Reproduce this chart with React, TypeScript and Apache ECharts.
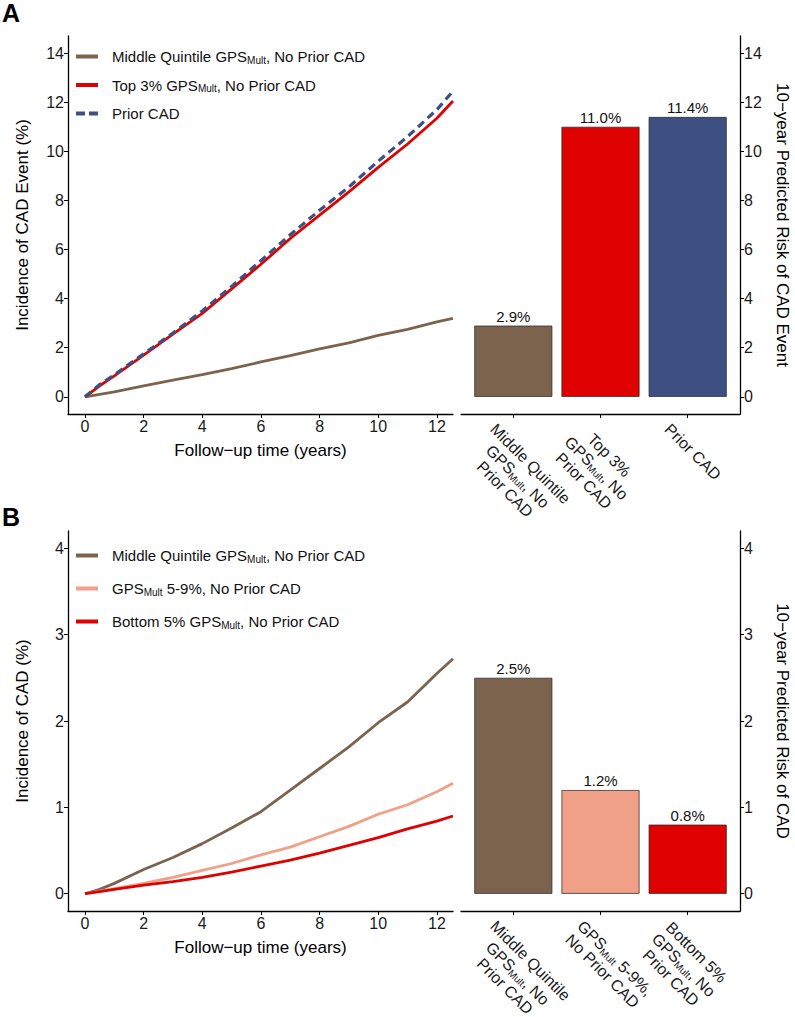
import React, { useEffect, useRef } from "react";
import * as echarts from "echarts";

const FONT = "'Liberation Sans', Arial, Helvetica, sans-serif";

// ---------- shared ----------
const followUpYears = [0, 0.5, 1, 2, 3, 4, 5, 6, 7, 8, 9, 10, 11, 12, 12.55];
const xTicks = [0, 2, 4, 6, 8, 10, 12];

// ---------- panel A ----------
const aMiddleQuintile = [0, 0.1, 0.2, 0.45, 0.68, 0.9, 1.15, 1.42, 1.68, 1.95, 2.2, 2.5, 2.75, 3.05, 3.2];
const aTop3 = [0, 0.45, 0.85, 1.7, 2.55, 3.4, 4.4, 5.4, 6.45, 7.4, 8.35, 9.35, 10.3, 11.35, 12.05];
const aPriorCad = [0, 0.5, 0.9, 1.75, 2.6, 3.5, 4.5, 5.55, 6.6, 7.6, 8.55, 9.6, 10.6, 11.7, 12.45];
const aYTicks = [0, 2, 4, 6, 8, 10, 12, 14];
const aBarCategories = [
  "Middle Quintile\nGPS_Mult, No\nPrior CAD",
  "Top 3%\nGPS_Mult, No\nPrior CAD",
  "Prior CAD",
];
const aBarValues = [2.9, 11.0, 11.4];

// ---------- panel B ----------
const bMiddleQuintile = [0, 0.05, 0.12, 0.28, 0.42, 0.58, 0.76, 0.95, 1.2, 1.45, 1.7, 1.98, 2.22, 2.55, 2.72];
const b5to9 = [0, 0.03, 0.06, 0.12, 0.19, 0.27, 0.35, 0.45, 0.54, 0.66, 0.78, 0.92, 1.03, 1.18, 1.28];
const bBottom5 = [0, 0.025, 0.05, 0.1, 0.14, 0.19, 0.25, 0.32, 0.39, 0.47, 0.56, 0.65, 0.75, 0.84, 0.9];
const bYTicks = [0, 1, 2, 3, 4];
const bBarCategories = [
  "Middle Quintile\nGPS_Mult, No\nPrior CAD",
  "GPS_Mult 5-9%,\nNo Prior CAD",
  "Bottom 5%\nGPS_Mult, No\nPrior CAD",
];
const bBarValues = [2.5, 1.2, 0.8];

// bar category positions on the bar axes (ticks) and where their labels hang
const barPositions = [1, 2, 3];
const barLabelPositions = [0.84, 1.84, 2.84];

// ---------- names ----------
const nMid = "Middle Quintile GPS_Mult, No Prior CAD";
const nTop3 = "Top 3% GPS_Mult, No Prior CAD";
const nPrior = "Prior CAD";
const n5to9 = "GPS_Mult 5-9%, No Prior CAD";
const nBottom5 = "Bottom 5% GPS_Mult, No Prior CAD";

const BROWN = "#7C634D";
const RED = "#DF0000";
const BLUE = "#3D5081";
const PINK = "#F0A086";
const TXT = "#1a1a1a";

const richLine = (line: string) =>
  line
    .split("_Mult")
    .map((p) => (p ? `{n|${p}}` : ""))
    .join("{s|Mult}");
const richify = (s: string) => s.split("\n").map(richLine).join("\n");

const pairs = (xs: number[], ys: number[]) => xs.map((x, i) => [x, ys[i]]);

const axisLineStyle = { show: true, onZero: false, lineStyle: { color: "#000", width: 1.3 } };

function lineX(gridIndex: number) {
  return {
    type: "value",
    gridIndex,
    min: -0.58,
    max: 12.55,
    axisLine: axisLineStyle,
    axisTick: { show: true, length: 4, customValues: xTicks, lineStyle: { color: "#000" } },
    axisLabel: { customValues: xTicks, fontSize: 16, color: TXT, margin: 4, fontFamily: FONT },
    splitLine: { show: false },
    name: "Follow\u2212up time (years)",
    nameLocation: "middle",
    nameGap: 28,
    nameTextStyle: { fontSize: 17, color: "#000", fontFamily: FONT },
  };
}

function yAxisDef(gridIndex: number, min: number, max: number, ticks: number[], name: string, right: boolean) {
  return {
    type: "value",
    gridIndex,
    min,
    max,
    position: right ? "right" : "left",
    axisLine: axisLineStyle,
    axisTick: { show: true, length: 4, customValues: ticks, lineStyle: { color: "#000" } },
    axisLabel: { customValues: ticks, fontSize: 16, color: TXT, margin: 4, fontFamily: FONT },
    splitLine: { show: false },
    name,
    nameLocation: "middle",
    nameRotate: right ? -90 : 90,
    nameGap: right ? 34 : 37,
    nameTextStyle: { fontSize: 17, color: "#000", fontFamily: FONT },
  };
}

const labelRich = {
  n: { fontSize: 16, lineHeight: 18, align: "center", color: TXT, fontFamily: FONT },
  s: { fontSize: 10, lineHeight: 11, verticalAlign: "bottom", align: "center", color: TXT, fontFamily: FONT },
};

function barX(gridIndex: number, cats: string[]) {
  return {
    type: "value",
    gridIndex,
    min: 0.4,
    max: 3.6,
    axisLine: axisLineStyle,
    axisTick: { show: true, length: 4, customValues: barPositions, lineStyle: { color: "#000" } },
    axisLabel: {
      customValues: barLabelPositions,
      rotate: -45,
      align: "left",
      verticalAlign: "top",
      margin: 6,
      formatter: (v: number) => richify(cats[Math.round(v) - 1] || ""),
      rich: labelRich,
    },
    splitLine: { show: false },
  };
}

function barSeries(axisIndex: number, values: number[], colors: string[]) {
  return {
    type: "bar",
    xAxisIndex: axisIndex,
    yAxisIndex: axisIndex,
    barWidth: 78,
    data: values.map((v, i) => ({ value: [barPositions[i], v], itemStyle: { color: colors[i] } })),
    itemStyle: { borderColor: "#222", borderWidth: 0.7 },
    label: {
      show: true,
      position: "top",
      distance: 2,
      fontSize: 15,
      color: "#111",
      fontFamily: FONT,
      formatter: (p: any) => p.value[1].toFixed(1) + "%",
    },
  };
}

function lineSeries(axisIndex: number, name: string, ys: number[], color: string, dashed = false) {
  return {
    type: "line",
    name,
    xAxisIndex: axisIndex,
    yAxisIndex: axisIndex,
    data: pairs(followUpYears, ys),
    symbol: "none",
    lineStyle: { color, width: dashed ? 3.2 : 2.8, type: dashed ? [8, 5] : "solid" },
    itemStyle: { color },
  };
}

const legendText = {
  fontSize: 15,
  color: "#111",
  fontFamily: FONT,
  padding: [0, 0, 0, 9],
  rich: {
    n: { fontSize: 15, lineHeight: 17, color: "#111", fontFamily: FONT },
    s: { fontSize: 10, lineHeight: 11, verticalAlign: "bottom", color: "#111", fontFamily: FONT },
  },
};

const SOLID_ICON = "rect";
const DASH_ICON = "path://M0,0h9v4h-9zM13,0h9v4h-9z";

export default function App() {
  const ref = useRef<HTMLDivElement>(null);
  useEffect(() => {
    if (!ref.current) return;
    const chart = echarts.init(ref.current, undefined, { renderer: "svg" });
    const legendCommon = {
      orient: "vertical",
      left: 76,
      padding: 0,
      itemWidth: 22,
      itemHeight: 4,
      formatter: richify,
      textStyle: legendText,
      selectedMode: false,
    };
    const gridCommon = { outerBoundsMode: "none", containLabel: false };
    const option: any = {
      animation: false,
      textStyle: { fontFamily: FONT },
      grid: [
        { ...gridCommon, left: 68, top: 36, width: 385, height: 378 },
        { ...gridCommon, left: 461, top: 36, width: 279, height: 378 },
        { ...gridCommon, left: 68, top: 531, width: 385, height: 380 },
        { ...gridCommon, left: 461, top: 531, width: 279, height: 380 },
      ],
      xAxis: [lineX(0), barX(1, aBarCategories), lineX(2), barX(3, bBarCategories)],
      yAxis: [
        yAxisDef(0, -0.7, 14.7, aYTicks, "Incidence of CAD Event (%)", false),
        yAxisDef(1, -0.7, 14.7, aYTicks, "10\u2212year Predicted Risk of CAD Event", true),
        yAxisDef(2, -0.2, 4.2, bYTicks, "Incidence of CAD (%)", false),
        yAxisDef(3, -0.2, 4.2, bYTicks, "10\u2212year Predicted Risk of CAD", true),
      ],
      legend: [
        {
          ...legendCommon,
          top: 49,
          itemGap: 12.5,
          data: [
            { name: nMid, icon: SOLID_ICON },
            { name: nTop3, icon: SOLID_ICON },
            { name: nPrior, icon: DASH_ICON },
          ],
        },
        {
          ...legendCommon,
          top: 548,
          itemGap: 17,
          data: [
            { name: nMid, icon: SOLID_ICON },
            { name: n5to9, icon: SOLID_ICON },
            { name: nBottom5, icon: SOLID_ICON },
          ],
        },
      ],
      series: [
        lineSeries(0, nMid, aMiddleQuintile, BROWN),
        lineSeries(0, nTop3, aTop3, RED),
        lineSeries(0, nPrior, aPriorCad, BLUE, true),
        barSeries(1, aBarValues, [BROWN, RED, BLUE]),
        lineSeries(2, nMid, bMiddleQuintile, BROWN),
        lineSeries(2, n5to9, b5to9, PINK),
        lineSeries(2, nBottom5, bBottom5, RED),
        barSeries(3, bBarValues, [BROWN, PINK, RED]),
      ],
      graphic: [
        { type: "text", left: 2, top: 0, style: { text: "A", fontSize: 25, fontWeight: "bold", fill: "#000", fontFamily: FONT } },
        { type: "text", left: 2, top: 504, style: { text: "B", fontSize: 25, fontWeight: "bold", fill: "#000", fontFamily: FONT } },
      ],
    };
    chart.setOption(option);
    return () => chart.dispose();
  }, []);
  return <div ref={ref} style={{ position: "absolute", left: 0, top: 0, width: 795, height: 1017 }} />;
}
